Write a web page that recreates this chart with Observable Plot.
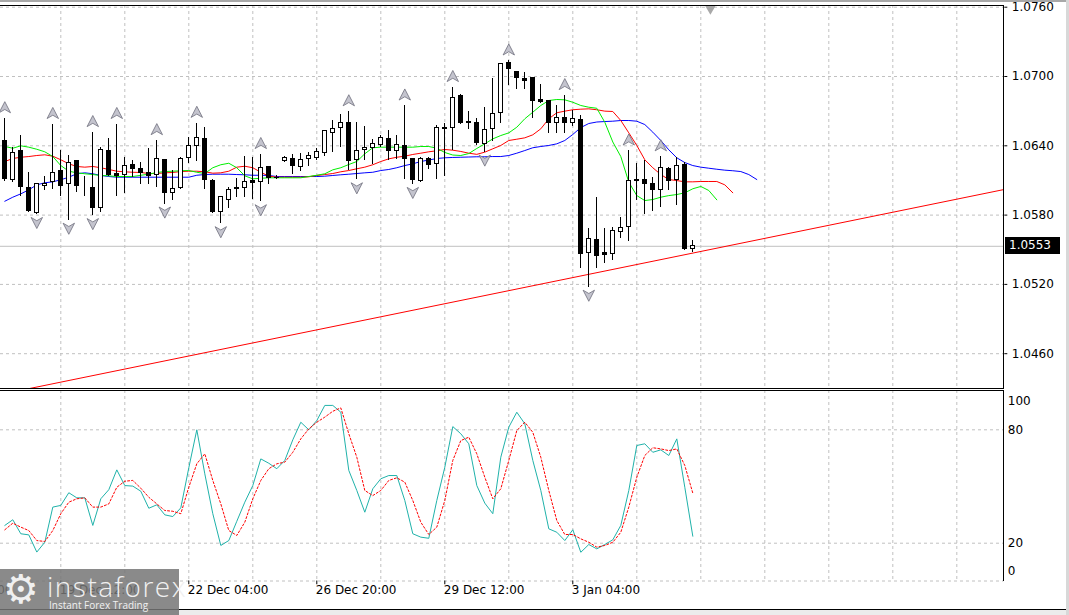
<!DOCTYPE html>
<html><head><meta charset="utf-8">
<script src="https://cdn.jsdelivr.net/npm/d3@7"></script>
<script src="https://cdn.jsdelivr.net/npm/@observablehq/plot@0.6"></script>
<style>
body{margin:0;background:#fff;}
#wrap{position:relative;width:1069px;height:615px;overflow:hidden;background:#fff;font-family:"DejaVu Sans",sans-serif;}
.abs{position:absolute;}
#wrap svg{position:absolute;left:0;overflow:hidden;}
</style>
</head><body><div id="wrap"></div>
<script>
// ---- candle data (H4 bars, index 0..86) ----
const opens = [1.06445,1.06105,1.06355,1.06035,1.05815,1.06055,1.06085,1.06185,1.06065,1.06265,
1.06045,1.06035,1.05865,1.06355,1.06155,1.06145,1.06235,1.06195,1.06165,1.06145,
1.06275,1.05995,1.06035,1.06295,1.06395,1.06455,1.06095,1.05825,1.05935,1.06025,
1.06035,1.06095,1.06085,1.06215,1.06125,1.06265,1.06285,1.06215,1.06285,1.06295,
1.06335,1.06515,1.06555,1.06595,1.06275,1.06365,1.06385,1.06405,1.06455,1.06355,
1.06395,1.06285,1.06095,1.06285,1.06245,1.06555,1.06555,1.06835,1.06605,1.06595,
1.06415,1.06545,1.06685,1.07115,1.07035,1.06975,1.06985,1.06795,1.06785,1.06595,
1.06645,1.06595,1.06625,1.05475,1.05585,1.05475,1.05465,1.05655,1.05695,1.06105,
1.06105,1.06065,1.06015,1.06195,1.06105,1.06235,1.0551];
const highs = [1.06635,1.06385,1.06485,1.06165,1.06075,1.06135,1.06585,1.06355,1.06315,1.06275,
1.06135,1.06515,1.06385,1.06465,1.06585,1.06295,1.06275,1.06255,1.06375,1.06445,
1.06285,1.06185,1.06295,1.06475,1.06595,1.06555,1.06105,1.05965,1.06035,1.06115,
1.06305,1.06295,1.06325,1.06225,1.06145,1.06305,1.06325,1.06335,1.06345,1.06375,
1.06535,1.06615,1.06675,1.06695,1.06605,1.06565,1.06455,1.06485,1.06535,1.06485,
1.06745,1.06290,1.06295,1.06295,1.06575,1.06595,1.06905,1.06845,1.06695,1.06635,
1.06735,1.06985,1.07115,1.07135,1.07045,1.07035,1.06990,1.06935,1.06790,1.06745,
1.06835,1.06705,1.06665,1.05685,1.05955,1.05685,1.05695,1.05775,1.06355,1.06245,
1.06275,1.06125,1.06305,1.06210,1.06295,1.06255,1.0558];
const lows = [1.06095,1.06085,1.05965,1.05825,1.05805,1.06015,1.06025,1.05965,1.05755,1.05995,
1.05965,1.05795,1.05825,1.06135,1.05965,1.05985,1.06125,1.06065,1.06065,1.06035,
1.05895,1.05925,1.06025,1.06245,1.06265,1.06025,1.05815,1.05725,1.05855,1.05955,
1.05955,1.05935,1.05915,1.06065,1.06105,1.06255,1.06155,1.06175,1.06225,1.06275,
1.06305,1.06345,1.06385,1.06185,1.06105,1.06275,1.06235,1.06385,1.06275,1.06285,
1.06105,1.06065,1.06085,1.06195,1.06105,1.06135,1.06355,1.06585,1.06545,1.06405,
1.06345,1.06435,1.06595,1.06925,1.06885,1.06885,1.06635,1.06765,1.06505,1.06505,
1.06505,1.06565,1.05335,1.05175,1.05335,1.05385,1.05405,1.05595,1.05575,1.05925,
1.05805,1.05835,1.05865,1.06015,1.05885,1.05495,1.05475];
const closes = [1.06115,1.06335,1.06045,1.05835,1.06065,1.06065,1.06165,1.06055,1.06255,1.06055,
1.06045,1.05865,1.06365,1.06145,1.06135,1.06225,1.06195,1.06165,1.06135,1.06285,
1.05995,1.06025,1.06285,1.06395,1.06465,1.06105,1.05825,1.05955,1.06015,1.06035,
1.06085,1.06075,1.06205,1.06125,1.06120,1.06295,1.06225,1.06275,1.06315,1.06345,
1.06525,1.06545,1.06595,1.06265,1.06355,1.06385,1.06415,1.06465,1.06355,1.06405,
1.06285,1.06105,1.06285,1.06235,1.06555,1.06545,1.06815,1.06595,1.06595,1.06425,
1.06535,1.06675,1.07105,1.07065,1.06985,1.06965,1.06785,1.06775,1.06595,1.06645,
1.06595,1.06635,1.05465,1.05595,1.05445,1.05455,1.05665,1.05685,1.06095,1.06095,
1.06065,1.06015,1.06205,1.06095,1.06225,1.05505,1.0553];

// ---- Alligator lines (already shifted forward) ----
const jaw = [1.05920,1.05955,1.05984,1.06019,1.06062,1.06080,1.06088,1.06106,1.06128,1.06158,
1.06166,1.06158,1.06143,1.06134,1.06128,1.06128,1.06128,1.06128,1.06128,1.06128,
1.06128,1.06128,1.06128,1.06128,1.06145,1.06151,1.06154,1.06154,1.06154,1.06151,
1.06149,1.06145,1.06145,1.06143,1.06134,1.06134,1.06134,1.06134,1.06134,1.06134,
1.06137,1.06143,1.06149,1.06154,1.06160,1.06166,1.06171,1.06186,1.06195,1.06210,
1.06229,1.06244,1.06264,1.06277,1.06290,1.06296,1.06299,1.06301,1.06303,1.06305,
1.06305,1.06307,1.06307,1.06316,1.06336,1.06359,1.06383,1.06394,1.06403,1.06417,
1.06446,1.06498,1.06558,1.06593,1.06606,1.06610,1.06613,1.06619,1.06619,1.06613,
1.06584,1.06518,1.06446,1.06365,1.06296,1.06255,1.06229,1.06215,1.06206,1.06197,
1.06189,1.06184,1.06177,1.06151,1.06108];
const teeth = [1.06264,1.06290,1.06301,1.06307,1.06316,1.06322,1.06310,1.06279,1.06244,1.06221,
1.06215,1.06221,1.06210,1.06195,1.06180,1.06175,1.06171,1.06169,1.06160,1.06160,
1.06166,1.06169,1.06177,1.06180,1.06180,1.06175,1.06163,1.06166,1.06180,1.06215,
1.06223,1.06210,1.06171,1.06137,1.06128,1.06128,1.06128,1.06128,1.06132,1.06143,
1.06151,1.06160,1.06175,1.06186,1.06201,1.06215,1.06236,1.06264,1.06287,1.06301,
1.06310,1.06325,1.06336,1.06348,1.06357,1.06368,1.06362,1.06351,1.06336,1.06326,
1.06345,1.06374,1.06403,1.06446,1.06457,1.06469,1.06495,1.06547,1.06634,1.06686,
1.06700,1.06712,1.06717,1.06720,1.06712,1.06700,1.06697,1.06619,1.06512,1.06403,
1.06279,1.06210,1.06151,1.06108,1.06099,1.06088,1.06088,1.06091,1.06091,1.06091,
1.06062,1.05993];
const lips = [1.06394,1.06379,1.06400,1.06388,1.06370,1.06348,1.06307,1.06229,1.06180,1.06166,
1.06158,1.06151,1.06143,1.06140,1.06134,1.06134,1.06134,1.06145,1.06154,1.06169,
1.06177,1.06180,1.06184,1.06186,1.06171,1.06160,1.06210,1.06236,1.06249,1.06210,
1.06140,1.06114,1.06119,1.06123,1.06123,1.06123,1.06123,1.06123,1.06134,1.06145,
1.06158,1.06192,1.06210,1.06238,1.06264,1.06331,1.06383,1.06388,1.06388,1.06388,
1.06388,1.06388,1.06394,1.06394,1.06379,1.06342,1.06320,1.06316,1.06333,1.06377,
1.06417,1.06460,1.06489,1.06512,1.06561,1.06634,1.06691,1.06749,1.06792,1.06801,
1.06798,1.06777,1.06749,1.06734,1.06725,1.06604,1.06433,1.06307,1.06085,1.05969,
1.05926,1.05935,1.05955,1.05969,1.05978,1.05993,1.06028,1.06048,1.06013,1.05932];

// ---- Fractals (bar numbers, 1-based) ----
const upFractals = [1,7,12,15,20,25,33,44,51,57,64,71,79,83];
const downFractals = [5,9,12,21,28,33,45,52,61,74];

// ---- Trendline anchors ----
const trendBars = [3.2, 124.8];
const trendPrices = [1.0430, 1.0602];
const bidPrice = 1.0553;

// ---- Stochastic ----
const stochMain = [29.4,32.4,25.0,24.4,15.3,20.5,39.1,40.0,46.7,44.0,
44.0,29.4,43.5,48.3,58.8,50.5,50.2,47.5,38.5,40.3,
35.0,34.1,38.7,59.9,80.0,56.7,35.6,18.8,21.4,31.6,
41.7,50.5,64.6,62.3,59.4,63.8,74.7,84.0,80.0,84.9,
92.9,92.9,89.3,58.5,47.9,36.4,48.8,54.1,55.8,55.8,
42.6,25.0,23.2,22.6,42.6,60.2,81.7,77.9,72.6,50.5,
41.2,35.6,65.5,81.4,89.3,83.2,63.8,47.9,27.6,25.8,
21.4,27.1,15.2,19.3,17.0,19.3,21.8,29.4,47.9,71.7,
72.6,68.1,69.4,66.4,75.2,49.6,23.7];
const stochSignal = [27.1,30.6,28.5,26.7,21.4,20.9,26.7,35.6,41.7,43.5,
44.0,39.1,39.1,40.8,49.6,52.8,53.2,49.1,44.3,40.8,
37.3,36.9,35.6,49.6,62.0,67.3,53.2,40.8,26.7,24.1,
31.1,43.5,53.2,59.4,62.0,62.9,68.1,75.2,80.5,84.0,
86.7,89.8,91.6,77.9,65.5,47.9,45.2,47.9,53.2,54.6,
52.3,42.6,31.1,24.6,28.5,42.6,63.8,74.3,76.1,67.3,
54.9,43.5,48.8,63.8,79.6,84.0,78.7,65.5,47.9,32.0,
24.6,24.6,22.3,20.5,17.9,18.8,20.5,25.8,39.1,54.9,
66.4,70.5,69.9,69.0,69.9,61.1,46.5];

// ---- Axis ticks and labels ----
const priceTicks = [1.0460,1.0520,1.0580,1.0640,1.0700,1.0760];
const gridBars = [7,15,23,31,39,47,55,63,71,79,87,95,103,111,119];
const timeLabelBars = [-9,7,23,39,55,71];
const timeLabels = ["14 Dec 20:00","19 Dec 12:00","22 Dec 04:00","26 Dec 20:00","29 Dec 12:00","3 Jan 04:00"];
const stochGrid = [0,20,80];
const shiftBar = 88.2;

// ---- tables ----
const candles = opens.map((o,i)=>({bar:i, open:o, high:highs[i], low:lows[i], close:closes[i]}));
const toLine = arr => arr.map((v,i)=>({bar:i, v}));
const upData = upFractals.map(n=>candles[n-1]);
const downData = downFractals.map(n=>candles[n-1]);
const trend = trendBars.map((b,i)=>({bar:b, price:trendPrices[i]}));
const timeData = timeLabelBars.map((b,i)=>({bar:b, label:timeLabels[i]}));

const arrowUp = {draw(ctx,size){const r=Math.sqrt(size/Math.PI);ctx.moveTo(0,-r);ctx.lineTo(r*0.95,r*0.85);ctx.lineTo(0,r*0.3);ctx.lineTo(-r*0.95,r*0.85);ctx.closePath();}};
const arrowDown = {draw(ctx,size){const r=Math.sqrt(size/Math.PI);ctx.moveTo(0,r);ctx.lineTo(r*0.95,-r*0.85);ctx.lineTo(0,-r*0.3);ctx.lineTo(-r*0.95,-r*0.85);ctx.closePath();}};

const grid = {stroke:"#c0c0c0", strokeOpacity:1, strokeDasharray:"3,3"};
const xScale = {domain:[-0.5375, 124.875], axis:null};
const baseStyle = {fontFamily:"DejaVu Sans", fontSize:"12px", color:"black", background:"transparent"};

const wrap = document.getElementById("wrap");

const mainPlot = Plot.plot({
  width:1069, height:389,
  marginLeft:0, marginRight:65.7, marginTop:5, marginBottom:1,
  x: xScale,
  y: {domain:[1.0460,1.0760], range:[353.2,6.7], axis:null},
  style: baseStyle,
  marks: [
    Plot.gridY(priceTicks, grid),
    Plot.gridX(gridBars, grid),
    Plot.ruleY([bidPrice], {stroke:"#c0c0c0"}),
    Plot.line(trend, {x:"bar", y:"price", stroke:"#ff0000", strokeWidth:1, clip:true}),
    Plot.line(toLine(jaw), {x:"bar", y:"v", stroke:"#0000ff", strokeWidth:1, clip:true}),
    Plot.line(toLine(teeth), {x:"bar", y:"v", stroke:"#ff0000", strokeWidth:1, clip:true}),
    Plot.line(toLine(lips), {x:"bar", y:"v", stroke:"#00ee00", strokeWidth:1, clip:true}),
    Plot.ruleX(candles, {x:"bar", y1:"low", y2:"high", stroke:"black", strokeWidth:1, shapeRendering:"crispEdges"}),
    Plot.rect(candles, {x1:d=>d.bar-0.26, x2:d=>d.bar+0.26, y1:"open", y2:"close",
      fill:d=>d.close>d.open?"white":"black", stroke:"black", strokeWidth:1, shapeRendering:"crispEdges"}),
    Plot.dot(upData, {x:"bar", y:"high", dy:-11, r:6, symbol:arrowUp, fill:"#c4c4ce", stroke:"#6e6e7c", strokeWidth:0.8}),
    Plot.dot(downData, {x:"bar", y:"low", dy:8, r:6, symbol:arrowDown, fill:"#c4c4ce", stroke:"#6e6e7c", strokeWidth:0.8}),
    Plot.dot([shiftBar], {x:d=>d, frameAnchor:"top", dy:3, r:4, symbol:"triangle", rotate:180, fill:"#a8a8a8"}),
    Plot.axisY(priceTicks, {anchor:"right", tickSize:3, tickPadding:5, tickFormat:d=>d.toFixed(4), fontSize:12})
  ]
});
mainPlot.style.top = "0px";
wrap.appendChild(mainPlot);

const stochPlot = Plot.plot({
  width:1069, height:226,
  marginLeft:0, marginRight:65.7, marginTop:1, marginBottom:34.5,
  x: xScale,
  y: {domain:[0,100], range:[191.5,2.5], axis:null},
  style: baseStyle,
  marks: [
    Plot.gridX(gridBars, grid),
    Plot.gridY(stochGrid, grid),
    Plot.line(toLine(stochMain), {x:"bar", y:"v", stroke:"#20b2aa", strokeWidth:1}),
    Plot.line(toLine(stochSignal), {x:"bar", y:"v", stroke:"#ff0000", strokeWidth:1, strokeDasharray:"2,2"}),
    Plot.text([100], {y:d=>d, text:d=>String(d), frameAnchor:"right", textAnchor:"start", dx:4, dy:9, fontSize:12}),
    Plot.text([80,20], {y:d=>d, text:d=>String(d), frameAnchor:"right", textAnchor:"start", dx:4, fontSize:12}),
    Plot.text([0], {y:d=>d, text:d=>String(d), frameAnchor:"right", textAnchor:"start", dx:4, dy:-10, fontSize:12}),
    Plot.text(timeData, {x:"bar", text:"label", frameAnchor:"bottom", textAnchor:"start", dx:-1, dy:13, fontSize:12}),
    Plot.ruleX(timeData, {x:"bar", y1:0, y2:-2, stroke:"black"})
  ]
});
stochPlot.style.top = "389px";
wrap.appendChild(stochPlot);

// decorative frame lines
function line(l,t,w,h,c){const d=document.createElement("div");d.className="abs";Object.assign(d.style,{left:l+"px",top:t+"px",width:w+"px",height:h+"px",background:c});wrap.appendChild(d);}
line(0,0,1066,2,"#a8a8a8");
line(0,5,1004,1,"#000");
line(1003,5,1,384,"#000");
line(0,388,1004,1,"#000");
line(0,390,1004,1,"#000");
line(1003,390,1,191,"#000");
line(0,609,1066,1,"#000");
line(0,610,1066,5,"#ececec");
line(1066,0,3,615,"#d8d8d8");

// bid price label
const by = mainPlot.scale("y").apply(bidPrice);
const bl = document.createElement("div");
bl.className="abs";
Object.assign(bl.style,{left:"1005px",top:(by-8.5)+"px",width:"55px",height:"17px",background:"#000",color:"#fff",fontSize:"12px",lineHeight:"17px",paddingLeft:"4px",boxSizing:"border-box"});
bl.textContent = bidPrice.toFixed(4);
wrap.appendChild(bl);

// watermark logo
const logo = document.createElement("div");
logo.className="abs";
Object.assign(logo.style,{left:"0px",top:"569px",width:"179px",height:"46px",background:"rgba(118,118,118,0.85)",color:"#f0f0f0"});
logo.innerHTML = '<span style="position:absolute;left:3px;top:0px;font-size:40px;line-height:40px;">⚙</span>'+
 '<span style="position:absolute;left:47px;top:2px;font-family:\'Open Sans\';font-weight:300;font-size:28px;letter-spacing:1.5px;line-height:30px;">instaforex</span>'+
 '<span style="position:absolute;left:49px;top:30px;font-family:\'Open Sans\';font-size:10px;line-height:13px;">Instant Forex Trading</span>';
wrap.appendChild(logo);
</script>
</body></html>
